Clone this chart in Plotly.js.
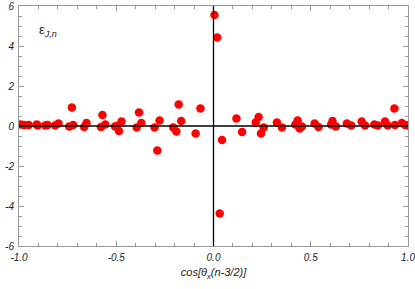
<!DOCTYPE html>
<html><head><meta charset="utf-8">
<script src="https://cdn.plot.ly/plotly-3.0.1.min.js"></script>
<style>html,body{margin:0;padding:0;background:#fff}#chart{width:415px;height:289px}</style>
</head><body><div id="chart"></div>
<script>
const xVals = [-0.990,-0.973,-0.950,-0.909,-0.904,-0.865,-0.853,-0.814,-0.797,-0.742,-0.728,-0.721,-0.665,-0.653,-0.579,-0.571,-0.557,-0.506,
  -0.497,-0.486,-0.473,-0.395,-0.383,-0.371,-0.303,-0.289,-0.277,-0.207,-0.191,-0.179,-0.166,-0.092,-0.067,
  0.005,0.019,0.032,0.044,0.118,0.147,0.217,0.232,0.244,0.258,0.326,0.352,0.421,0.433,0.443,0.455,
  0.520,0.540,0.605,0.612,0.629,0.686,0.708,0.762,0.779,0.827,0.845,0.882,0.896,0.930,0.933,0.968,0.985,0.998];
const yVals = [0.08,0.05,0.05,0.08,0.02,0.02,0.05,0.02,0.12,-0.02,0.93,0.05,-0.05,0.15,-0.05,0.55,0.08,-0.03,
  0.00,-0.25,0.22,-0.08,0.67,0.15,-0.08,-1.23,0.27,-0.08,-0.28,1.07,0.25,-0.38,0.87,
  5.55,4.43,-4.37,-0.70,0.38,-0.30,0.18,0.45,-0.38,-0.07,0.18,-0.07,0.08,0.28,-0.12,-0.02,
  0.12,-0.05,0.08,0.25,-0.03,0.12,0.02,0.22,0.02,0.08,0.02,0.22,0.02,0.88,0.05,0.15,0.05,0.03];
const xTickVals = [-1,-0.5,0,0.5,1];
const xTickText = ['-1.0','-0.5','0.0','0.5','1.0'];
const yTickVals = [-6,-4,-2,0,2,4,6];
const yTickText = ['-6','-4','-2','0','2','4','6'];

const tickFont = {family:'Liberation Sans, Arial, sans-serif', size:10, color:'#222', style:'italic'};
const frame = '#999';
const trace = {x:xVals, y:yVals, type:'scatter', mode:'markers',
  marker:{color:'#ff0000', size:8.5, line:{width:0}}, cliponaxis:true, hoverinfo:'none'};
const layout = {
  width:415, height:289, margin:{l:19, r:7, t:6, b:43},
  paper_bgcolor:'#fff', plot_bgcolor:'#fff', showlegend:false,
  xaxis:{range:[-1,1], tickvals:xTickVals, ticktext:xTickText, ticks:'inside', ticklen:5, tickcolor:frame,
    showgrid:false, zeroline:false, showline:true, linecolor:frame, linewidth:1, mirror:'ticks',
    minor:{dtick:0.1, ticks:'inside', ticklen:3, tickcolor:frame, showgrid:false},
    tickfont:tickFont, ticklabelstandoff:2, ticklabeloverflow:'allow',
    title:{text:'cos[θ<sub>x</sub>(n-3/2)]', font:{family:'Liberation Sans, Arial, sans-serif', size:11, color:'#222', style:'italic'}, standoff:6}},
  yaxis:{range:[-6,6], tickvals:yTickVals, ticktext:yTickText, ticks:'inside', ticklen:5, tickcolor:frame,
    showgrid:false, zeroline:false, showline:true, linecolor:frame, linewidth:1, mirror:'ticks',
    minor:{dtick:0.5, ticks:'inside', ticklen:3, tickcolor:frame, showgrid:false},
    tickfont:tickFont, ticklabelstandoff:2, ticklabeloverflow:'allow'},
  shapes:[
    {type:'line', xref:'paper', yref:'y', x0:0, x1:1, y0:0, y1:0, line:{color:'#000', width:1.3}, layer:'above'},
    {type:'line', xref:'x', yref:'paper', x0:0, x1:0, y0:0, y1:1, line:{color:'#000', width:1.3}, layer:'above'}
  ],
  annotations:[{xref:'paper', yref:'paper', x:0.045, y:0.94, xanchor:'left', yanchor:'top', showarrow:false,
    text:'ε<sub><i>J,n</i></sub>', font:{family:'Liberation Sans, Arial, sans-serif', size:13, color:'#222'}}]
};
Plotly.newPlot('chart', [trace], layout, {staticPlot:true, displayModeBar:false});
</script></body></html>
